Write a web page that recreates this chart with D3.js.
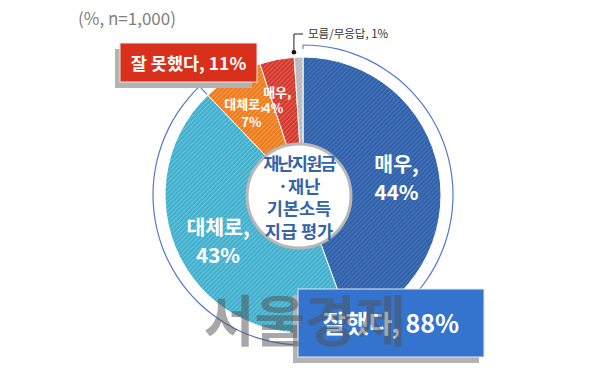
<!DOCTYPE html>
<html><head><meta charset="utf-8">
<script src="https://cdn.jsdelivr.net/npm/d3@7"></script>
<style>
html,body{margin:0;padding:0;background:#fff;}
svg{display:block;font-family:"Noto Sans CJK KR","Noto Sans",sans-serif;}
</style></head>
<body>
<svg id="c" width="606" height="368"></svg>
<script>
// ---- data ----
const categories = ["매우 잘했다", "대체로 잘했다", "대체로 잘못했다", "매우 잘못했다", "모름/무응답"];
const values = [44, 43, 7, 4, 1];
const sliceLabels = [["매우,", "44%"], ["대체로,", "43%"], ["대체로,", "7%"], ["매우,", "4%"], []];
const groupLabels = ["잘했다, 88%", "잘 못했다, 11%"];
const noAnswerLabel = "모름/무응답, 1%";
const centerLines = ["재난지원금", "·재난", "기본소득", "지급 평가"];
const noteText = "(%, n=1,000)";
const watermark = "서울경제";

const baseColors = ["#2f5fa7", "#3fadcc", "#ee7a17", "#d4342a", "#b4b4b4"];
const stripeColors = ["#4a78bf", "#6cc6de", "#f49c52", "#e2655a", "#cfcfcf"];

const svg = d3.select("#c");
const cx = 303, cy = 195, R = 138;

// patterns
const defs = svg.append("defs");
baseColors.forEach((c, i) => {
  const p = defs.append("pattern").attr("id", "pat" + i)
    .attr("patternUnits", "userSpaceOnUse").attr("width", 3.2).attr("height", 3.2)
    .attr("patternTransform", "rotate(45)");
  p.append("rect").attr("width", 3.2).attr("height", 3.2).attr("fill", c);
  p.append("rect").attr("width", 1.1).attr("height", 3.2).attr("fill", stripeColors[i]);
});

// note
svg.append("text").attr("x", 78).attr("y", 25).attr("font-size", 17)
  .attr("fill", "#808080").text(noteText);

const g = svg.append("g").attr("transform", `translate(${cx},${cy})`);
const pie = d3.pie().sort(null).value(d => d);
const arcs = pie(values);
const arc = d3.arc().innerRadius(0).outerRadius(R);

g.selectAll("path.slice").data(arcs).join("path").attr("class", "slice")
  .attr("d", arc).attr("fill", (d, i) => `url(#pat${i})`)
  .attr("stroke", "#fff").attr("stroke-width", 1);

// outer ring for "잘했다"
const ringEnd = arcs[1].endAngle;
const ring = d3.arc().innerRadius(149.4).outerRadius(150.6);
g.append("path").attr("d", ring({startAngle: 0, endAngle: ringEnd})).attr("fill", "#5577cc");
const polar = (a, r) => [Math.sin(a) * r, -Math.cos(a) * r];
[[0, 146, 150], [ringEnd, 139, 150]].forEach(([a, r0, r1]) => {
  const p0 = polar(a, r0), p1 = polar(a, r1);
  g.append("line").attr("x1", p0[0]).attr("y1", p0[1]).attr("x2", p1[0]).attr("y2", p1[1])
    .attr("stroke", "#5577cc").attr("stroke-width", 1.1);
});

// center circle
svg.append("circle").attr("cx", 299).attr("cy", 196).attr("r", 52)
  .attr("fill", "#fff").attr("stroke", "#b8b8b8").attr("stroke-width", 3);
centerLines.forEach((t, i) => {
  svg.append("text").attr("x", 299).attr("y", 170 + i * 22.5).attr("text-anchor", "middle")
    .attr("font-size", 17.5).attr("font-weight", 700).attr("fill", "#3563a8")
    .attr("letter-spacing", i === 0 ? -1.8 : 0).text(t);
});

// slice labels (r: radius, da: angle offset in degrees from slice middle)
const labelCfg = [
  {r: 95, da: 0, fs: 20.5, lh: 28, xs: [0, 0]},
  {r: 97, da: 3, fs: 20.5, lh: 28, xs: [0, 0]},
  {r: 99, da: -3.3, fs: 13, lh: 18, xs: [-3, 4]},
  {r: 99, da: -5.4, fs: 13, lh: 16, xs: [2, -2]}
];
arcs.forEach((d, i) => {
  if (!sliceLabels[i].length) return;
  const c = labelCfg[i];
  const mid = (d.startAngle + d.endAngle) / 2 + c.da * Math.PI / 180;
  const [x, y] = polar(mid, c.r);
  const lines = sliceLabels[i];
  lines.forEach((t, k) => {
    g.append("text").attr("x", x + c.xs[k]).attr("y", y + (k - (lines.length - 1) / 2) * c.lh)
      .attr("dy", "0.36em").attr("text-anchor", "middle")
      .attr("font-size", c.fs).attr("font-weight", 700).attr("fill", "#fff").text(t);
  });
});

// no answer leader
{
  const a = arcs[4].startAngle;
  const [x, y] = polar(a, 143);
  const px = cx + x, py = cy + y;
  svg.append("path").attr("d", `M${px},${py}V34H303`).attr("fill", "none")
    .attr("stroke", "#222").attr("stroke-width", 1);
  svg.append("circle").attr("cx", px).attr("cy", py).attr("r", 2.3).attr("fill", "#111");
  svg.append("text").attr("x", 308).attr("y", 38).attr("font-size", 11.5)
    .attr("fill", "#333").text(noAnswerLabel);
}

// group boxes
function box(x, y, w, h, fill, text, fs, ty) {
  svg.append("rect").attr("x", x - 5).attr("y", y + 6).attr("width", w).attr("height", h).attr("fill", "#b3b3b3");
  svg.append("rect").attr("x", x).attr("y", y).attr("width", w).attr("height", h)
    .attr("fill", fill).attr("stroke", "#e8e8e8").attr("stroke-width", 1);
  svg.append("text").attr("x", x + w / 2).attr("y", ty).attr("text-anchor", "middle")
    .attr("font-size", fs).attr("font-weight", 700).attr("fill", "#fff").text(text);
}
box(120, 43, 137, 39, "#d9301c", groupLabels[1], 17.5, 70);
box(298, 289, 186, 68, "#3474cf", groupLabels[0], 25, 333);

// watermark
svg.append("text").attr("x", 305).attr("y", 341).attr("text-anchor", "middle")
  .attr("font-size", 55).attr("font-weight", 700).attr("fill", "rgba(80,80,80,0.5)")
  .text(watermark);
</script>
</body></html>
